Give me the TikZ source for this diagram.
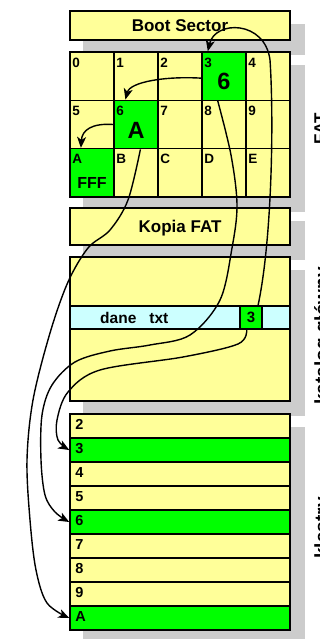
\documentclass[tikz,border=0pt]{standalone}
\usepackage{fontspec}
\setmainfont{Liberation Sans}
\usetikzlibrary{calc,arrows.meta}
\definecolor{yel}{HTML}{FFFF99}
\definecolor{grn}{HTML}{00FF00}
\definecolor{cyn}{HTML}{CCFFFF}
\definecolor{shd}{HTML}{CCCCCC}
\pgfdeclarelayer{bg}
\pgfsetlayers{bg,main}
\tikzset{
 box/.style={draw=black, line width=1.5pt, fill=yel, inner sep=0pt, minimum width=220pt, text depth=0pt, font=\fontsize{17}{20}\selectfont\bfseries},
 cell/.style={draw=black, line width=1.5pt, inner sep=0pt, minimum width=44pt, minimum height=48.33pt},
 celllab/.style={anchor=base west, inner sep=0pt, font=\fontsize{13.5}{16}\selectfont\bfseries},
 bigval/.style={inner sep=0pt, font=\fontsize{23.5}{26}\selectfont\bfseries},
 fffval/.style={inner sep=0pt, font=\fontsize{16}{19}\selectfont\bfseries},
 rowbox/.style={draw=black, line width=1.5pt, inner sep=0pt, minimum width=220pt, minimum height=23pt},
 clus/.style={draw=black, line width=1.5pt, inner sep=0pt, minimum width=220pt, minimum height=24pt},
 cluslab/.style={anchor=base west, inner sep=0pt, font=\fontsize{14.5}{17}\selectfont\bfseries},
 dirtext/.style={inner sep=0pt, font=\fontsize{15.5}{18}\selectfont\bfseries},
 conn/.style={line width=1.4pt, -{Stealth[length=11pt,width=9pt,inset=3pt]}},
 sidelab/.style={rotate=90, anchor=base, inner sep=0pt, font=\fontsize{17}{20}\selectfont\bfseries},
}
\begin{document}
\begin{tikzpicture}[x=1pt,y=-1pt]
\useasboundingbox (0,0) rectangle (320,639);
% boot sector
\node[box, minimum height=29pt] (boot) at (180,25.5) {Boot Sector};
% FAT grid
\foreach \lab/\col/\row/\clr in {0/0/0/yel,1/1/0/yel,2/2/0/yel,3/3/0/grn,4/4/0/yel,
  5/0/1/yel,6/1/1/grn,7/2/1/yel,8/3/1/yel,9/4/1/yel,
  A/0/2/grn,B/1/2/yel,C/2/2/yel,D/3/2/yel,E/4/2/yel}{
  \node[cell, fill=\clr] (f\lab) at ({92+44*\col},{76.17+48.33*\row}) {};
  \node[celllab] (fl\lab) at ($(f\lab.north west)+(3,16)$) {\lab};
}
\node[bigval] (v3) at ($(f3.center)+(0,5)$) {6};
\node[bigval] (v6) at ($(f6.center)+(0,6)$) {A};
\node[fffval] (vA) at ($(fA.center)+(0,10)$) {FFF};
% copy of FAT
\node[box, minimum height=37pt] (kopia) at (180,226.5) {Kopia FAT};
% root directory
\node[box, minimum height=144pt] (dir) at (180,329) {};
\node[rowbox, fill=cyn] (drow) at (180,317.5) {};
\node[rowbox, fill=grn, minimum width=22pt, font=\fontsize{15}{18}\selectfont\bfseries] (d3) at (251,317.5) {3};
\node[dirtext, anchor=base west] (dname) at (100,323) {dane\hspace{13pt}txt};
% clusters
\foreach \lab/\clr [count=\i from 0] in {2/yel,3/grn,4/yel,5/yel,6/grn,7/yel,8/yel,9/yel,A/grn}{
  \node[clus, fill=\clr] (k\lab) at (180,{426+24*\i}) {};
  \node[cluslab] (kl\lab) at ($(k\lab.north west)+(6,16)$) {\lab};
}
% side labels (cut by the page edge, as in the reference)
\node[sidelab] (sfat) at (326,129) {FAT};
\node[sidelab, font=\fontsize{19}{22}\selectfont\bfseries] (sdir) at (328,336) {katalog główny};
\node[sidelab, font=\fontsize{19}{22}\selectfont\bfseries] (sclu) at (328,528) {klastry};
% shadows
\begin{pgfonlayer}{bg}
\foreach \n in {boot,kopia,dir}
  \fill[shd] ($(\n.north west)+(14,14)$) rectangle ($(\n.south east)+(14,14)$);
\fill[shd] ($(f0.north west)+(14,14)$) rectangle ($(fE.south east)+(14,14)$);
\fill[shd] ($(k2.north west)+(14,14)$) rectangle ($(kA.south east)+(14,14)$);
\end{pgfonlayer}
% connectors
\draw[conn] (d3.60) .. controls (272,240) and (274,120) .. (270,60) .. controls (265,20) and (215,20) .. (f3.123.5);
\draw[conn] (f3.185) .. controls (165,76) and (130,82) .. (f6.113);
\draw[conn] (f6.west) .. controls (92,123) and (82,130) .. (fA.114);
\draw[conn] plot[smooth, tension=0.55] coordinates {(f6.-80) (128,200) (110,230) (88,248) (68,282) (50,333) (33,400) (27,460) (30,520) (36,570) (47,603) (kA.west)};
\draw[conn] plot[smooth, tension=0.55] coordinates {(f3.-104) (231,155) (237,205) (232,248) (220,300) (190,335) (150,345) (110,351) (75,362) (52,385) (42,415) (41,460) (45,495) (55,512) (k6.west)};
\draw[conn] plot[smooth, tension=0.55] coordinates {(d3.-109) (238,344) (183,357) (100,370) (68,392) (57,420) (58,440) (k3.west)};
\end{tikzpicture}
\end{document}
